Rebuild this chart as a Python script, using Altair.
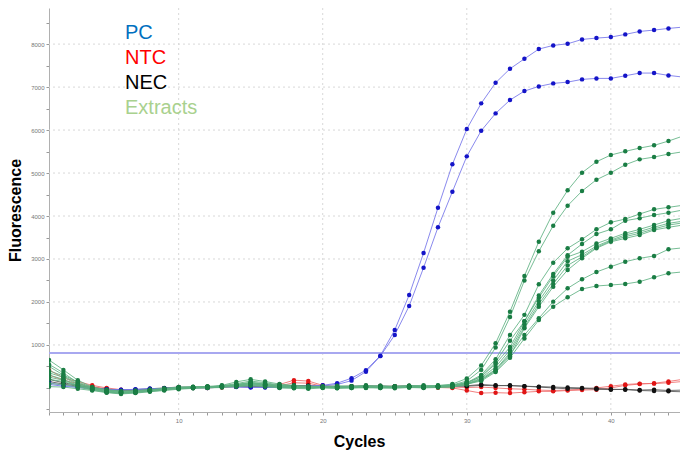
import altair as alt
import pandas as pd

cycles = list(range(1, 46))

pc_a = [80, 40, 10, -20, -40, -50, -30, -20, -10, 0,
        10, 0, 20, 30, 20, 10, 20, 30, 40, 60,
        110, 226, 412, 751, 1349, 2163, 3140, 4193, 5202, 6023,
        6621, 7100, 7426, 7658, 7884, 7970, 8007, 8109, 8140, 8163,
        8226, 8295, 8326, 8365, 8395]
pc_b = [120, 60, 20, -10, -30, -40, -40, -20, -10, 10,
        0, 10, 30, 20, 10, 20, 10, 20, 30, 50,
        80, 170, 379, 740, 1233, 1907, 2798, 3737, 4565, 5388,
        5984, 6388, 6698, 6907, 7016, 7086, 7116, 7179, 7202, 7202,
        7263, 7326, 7326, 7272, 7233]

ntc_a = [420, 230, 150, 60, 0, -40, -50, -30, -20, 0,
         10, 0, 20, 30, 20, 40, 80, 180, 160, 60,
         30, 40, 20, 30, 40, 30, 20, 10, 0, -60,
         -120, -110, -120, -100, -80, -80, -60, -50, -40, 0,
         60, 90, 110, 150, 200]
ntc_b = [300, 180, 100, 30, -20, -60, -60, -40, -10, 10,
         0, 20, 10, 40, 30, 20, 50, 120, 110, 40,
         20, 10, 30, 20, 10, 20, 30, 10, 20, 10,
         20, 0, -20, -30, -50, -60, -50, -30, 0, 40,
         80, 100, 100, 120, 150]

nec_a = [200, 120, 60, 10, -30, -50, -40, -20, 0, 20,
         10, 30, 40, 30, 50, 40, 30, 40, 50, 40,
         30, 40, 50, 30, 40, 50, 40, 30, 40, 50,
         80, 60, 50, 40, 30, 20, 10, 0, -10, -30,
         -40, -60, -70, -80, -90]
nec_b = [150, 90, 40, 0, -40, -70, -60, -30, -10, 10,
         20, 10, 30, 50, 40, 20, 40, 60, 50, 30,
         20, 30, 40, 50, 30, 40, 30, 40, 50, 40,
         60, 50, 60, 40, 20, 0, -20, -10, -30, -40,
         -30, -50, -40, -60, -50]

ext_1 = [650, 420, 180, 20, -60, -90, -80, -50, -30, 0,
         20, 30, 60, 140, 200, 150, 90, 60, 40, 30,
         50, 40, 60, 30, 40, 50, 60, 50, 90, 220,
         520, 1040, 1775, 2605, 3403, 4077, 4597, 5007, 5263, 5419,
         5505, 5581, 5644, 5744, 5860]
ext_2 = [550, 350, 120, -20, -80, -110, -100, -60, -20, 10,
         0, 40, 30, 80, 120, 90, 40, 30, 20, 40,
         30, 20, 40, 50, 30, 40, 30, 60, 70, 160,
         420, 940, 1650, 2500, 3180, 3774, 4240, 4581, 4844, 5007,
         5193, 5318, 5372, 5442, 5495]
ext_3 = [400, 280, 100, 0, -50, -80, -60, -40, -10, 20,
         30, 10, 50, 100, 160, 120, 70, 40, 30, 20,
         40, 30, 20, 40, 30, 50, 40, 50, 60, 120,
         300, 667, 1233, 1700, 2411, 2915, 3248, 3457, 3690, 3853,
         3930, 4047, 4155, 4202, 4250]
ext_4 = [300, 200, 60, -30, -90, -120, -100, -70, -40, -10,
         10, 20, 40, 60, 90, 70, 30, 20, 10, 30,
         20, 10, 30, 20, 40, 30, 20, 40, 50, 110,
         270, 600, 1100, 1550, 2150, 2650, 3090, 3350, 3581, 3690,
         3891, 3950, 4023, 4077, 4140]
ext_5 = [500, 300, 140, 10, -40, -70, -70, -40, -20, 10,
         20, 30, 20, 70, 110, 80, 50, 30, 20, 10,
         30, 40, 20, 30, 20, 40, 30, 40, 60, 130,
         260, 560, 950, 1550, 2100, 2600, 3050, 3170, 3360, 3480,
         3600, 3690, 3790, 3891, 3950]
ext_6 = [200, 150, 40, -40, -100, -130, -110, -80, -50, -20,
         0, 10, 20, 50, 80, 60, 20, 10, 0, 20,
         10, 0, 20, 10, 30, 20, 10, 30, 40, 100,
         230, 490, 880, 1480, 2020, 2500, 2950, 3100, 3300, 3440,
         3560, 3640, 3740, 3830, 3880]
ext_7 = [100, 80, 20, -50, -100, -120, -90, -60, -30, 0,
         10, 20, 30, 40, 70, 50, 10, 0, 10, 10,
         0, 10, 0, 20, 10, 10, 20, 20, 30, 90,
         210, 430, 820, 1420, 1950, 2420, 2850, 3050, 3270, 3420,
         3520, 3600, 3700, 3790, 3840]
ext_8 = [30, 20, -20, -60, -110, -140, -120, -90, -60, -30,
         -10, 0, 10, 30, 50, 30, 0, -10, -20, 0,
         -10, 0, 10, 0, -10, 10, 0, 10, 20, 80,
         190, 390, 740, 1390, 1890, 2356, 2744, 3016, 3250, 3400,
         3480, 3558, 3674, 3737, 3790]
ext_9 = [350, 250, 80, -10, -70, -100, -90, -50, -30, 0,
         10, 20, 50, 80, 130, 100, 60, 30, 10, 20,
         10, 30, 20, 10, 20, 30, 20, 30, 40, 100,
         180, 420, 780, 1232, 1620, 2008, 2318, 2527, 2698, 2822,
         2938, 3016, 3070, 3225, 3260]
ext_10 = [250, 180, 50, -20, -80, -110, -100, -70, -40, -10,
          0, 10, 30, 60, 100, 80, 40, 20, 0, 10,
          0, 20, 10, 0, 10, 20, 10, 20, 30, 90,
          160, 370, 700, 1150, 1580, 1891, 2109, 2302, 2372, 2395,
          2419, 2473, 2574, 2667, 2700]

threshold = [810]
y_grid = [1000, 2000, 3000, 4000, 5000, 6000, 7000, 8000]
x_grid = [10, 20, 30, 40]
y_tick_values = list(range(-500, 9000, 500))
legend_labels = ["PC", "NTC", "NEC", "Extracts"]
legend_colors = ["#0070C0", "#FF0000", "#000000", "#A9D18E"]

groups = {
    "NTC": [("NTC 1", ntc_a), ("NTC 2", ntc_b)],
    "NEC": [("NEC 1", nec_a), ("NEC 2", nec_b)],
    "PC": [("PC 1", pc_a), ("PC 2", pc_b)],
    "Extracts": [("Ext 1", ext_1), ("Ext 2", ext_2), ("Ext 3", ext_3),
                 ("Ext 4", ext_4), ("Ext 5", ext_5), ("Ext 6", ext_6),
                 ("Ext 7", ext_7), ("Ext 8", ext_8), ("Ext 9", ext_9),
                 ("Ext 10", ext_10)],
}
line_color = {"NTC": "#f06a6a", "NEC": "#555555", "PC": "#7474ea", "Extracts": "#5fb283"}
point_color = {"NTC": "#e01515", "NEC": "#111111", "PC": "#1414c8", "Extracts": "#1a7d44"}

rows = []
for grp, lst in groups.items():
    for name, vals in lst:
        for c, v in zip(cycles, vals):
            rows.append({"cycle": c, "value": v, "series": name, "group": grp})
df = pd.DataFrame(rows)

xscale = alt.Scale(domain=[1, 44.8], nice=False, zero=False)
yscale = alt.Scale(domain=[-560, 8840], nice=False, zero=False)

x_axis = alt.Axis(
    values=cycles, labelExpr="datum.value % 10 == 0 ? datum.label : ''",
    labelFontSize=6, labelColor="#777777", labelPadding=2, labelOverlap=False,
    labelFont="Liberation Sans", labelFlush=False,
    tickSize=3, tickColor="#999999", domainColor="#b0b0b0", grid=False,
    title="Cycles", titleFont="Liberation Sans", titleFontSize=16, titleFontWeight="bold",
    titleColor="#000000", titleX=310, titleY=34, titleBaseline="alphabetic", titleAlign="center",
)
y_axis = alt.Axis(
    values=y_tick_values,
    labelExpr="(datum.value >= 1000 && datum.value % 1000 == 0) ? datum.label : ''",
    format="d", labelFontSize=6, labelColor="#777777", labelPadding=2, labelOverlap=False,
    labelFont="Liberation Sans", labelFlush=False,
    tickSize=3, tickColor="#999999", domainColor="#b0b0b0", grid=False,
    title="Fluorescence", titleFont="Liberation Sans", titleFontSize=16, titleFontWeight="bold",
    titleColor="#000000", titleX=-29, titleY=202, titleAngle=270,
    titleBaseline="alphabetic", titleAlign="center",
)


def X():
    return alt.X("cycle:Q", scale=xscale, axis=x_axis)


def Y():
    return alt.Y("value:Q", scale=yscale, axis=y_axis)


base_axes = alt.Chart(pd.DataFrame({"cycle": [1], "value": [0]})).mark_point(opacity=0).encode(
    x=X(), y=Y())

ygrid_layer = alt.Chart(pd.DataFrame({"value": y_grid})).mark_rule(
    color="#d8d8d8", strokeWidth=1, strokeDash=[2, 3]
).encode(y=Y())
xgrid_layer = alt.Chart(pd.DataFrame({"cycle": x_grid})).mark_rule(
    color="#d8d8d8", strokeWidth=1, strokeDash=[2, 3]
).encode(x=X())

thr_layer = alt.Chart(pd.DataFrame({"value": threshold})).mark_rule(
    color="#a8a8f0", strokeWidth=2
).encode(y=Y())

layers = [base_axes, ygrid_layer, xgrid_layer, thr_layer]
for grp in ["NTC", "NEC", "PC", "Extracts"]:
    sub = df[df["group"] == grp]
    ln = alt.Chart(sub).mark_line(color=line_color[grp], strokeWidth=1, opacity=0.85, clip=True).encode(
        x=X(), y=Y(), detail="series:N",
    )
    pt = alt.Chart(sub).mark_circle(color=point_color[grp], size=20, opacity=1, clip=True).encode(
        x=X(), y=Y(),
    )
    layers += [ln, pt]

for i, (lab, col) in enumerate(zip(legend_labels, legend_colors)):
    t = alt.Chart(pd.DataFrame({"label": [lab]})).mark_text(
        align="left", baseline="alphabetic", font="Liberation Sans", fontSize=20, color=col
    ).encode(x=alt.value(76), y=alt.value(31 + 25 * i), text="label:N")
    layers.append(t)

chart = alt.layer(*layers).properties(
    width=631, height=404,
    padding={"left": 49, "top": 8, "right": 0, "bottom": 44},
    autosize=alt.AutoSizeParams(type="none"),
    background="white",
).configure_view(stroke=None)

chart.save("out.html", embed_options={"renderer": "svg", "actions": False})
